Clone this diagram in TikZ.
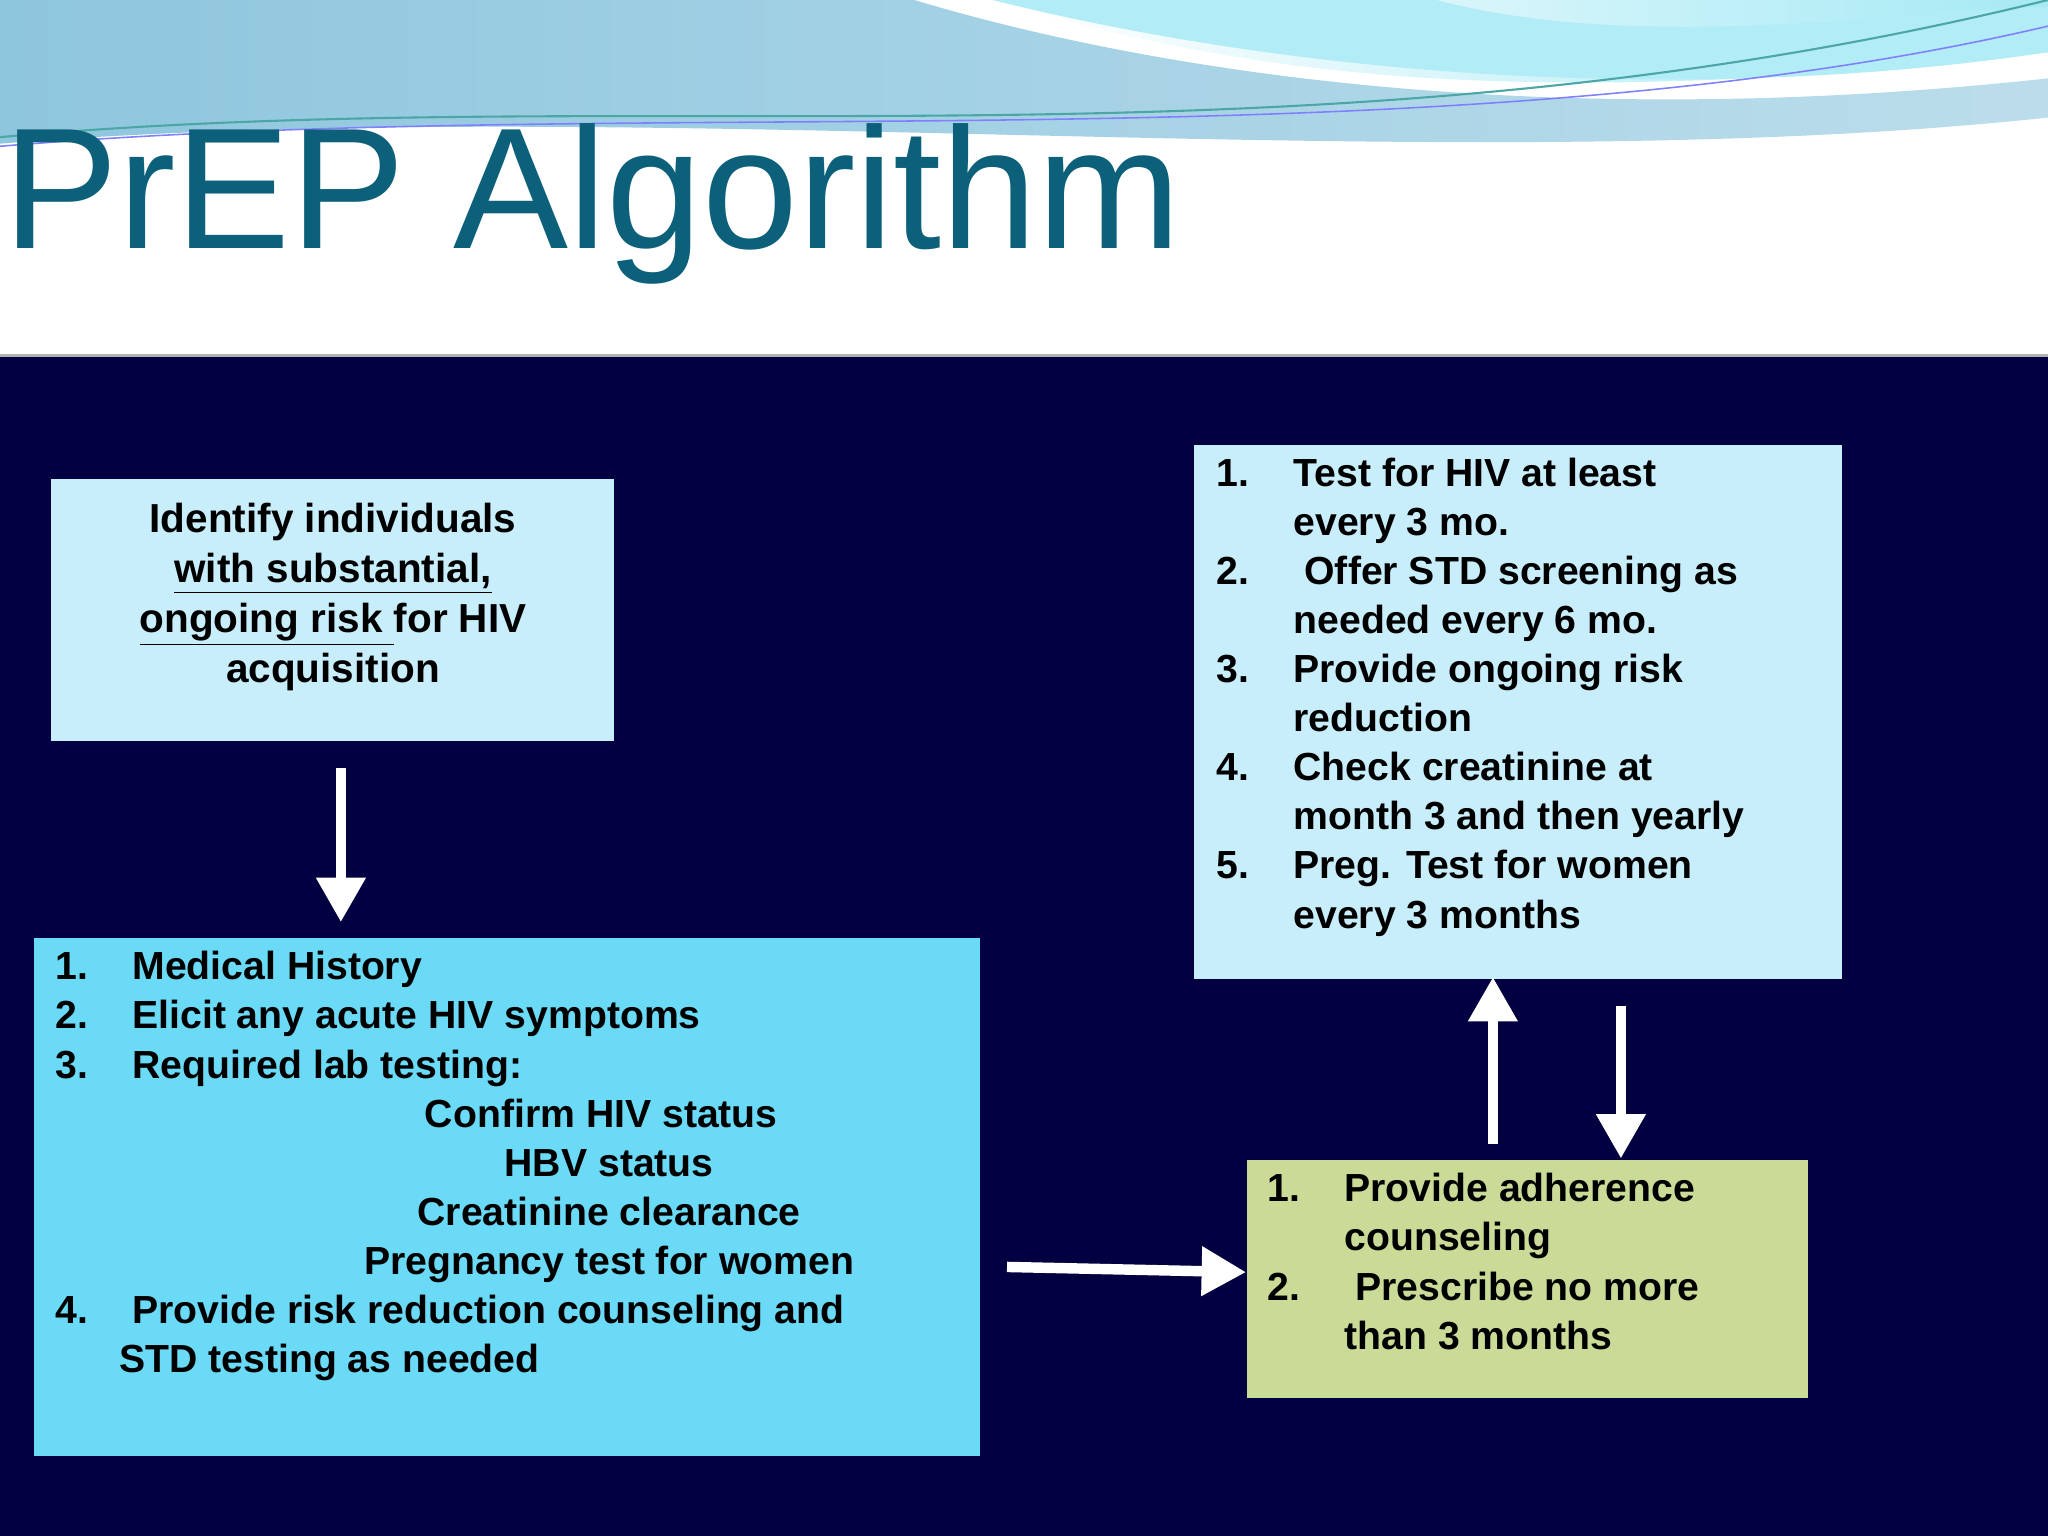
\documentclass[tikz,border=0pt]{standalone}
\usepackage{fontspec}
\setmainfont{Liberation Sans}
\usetikzlibrary{arrows.meta}
\definecolor{navy}{HTML}{020040}
\definecolor{boxA}{HTML}{C8EEFB}
\definecolor{boxB}{HTML}{6ADAF6}
\definecolor{boxC}{HTML}{CADB98}
\definecolor{titlec}{HTML}{0D6079}
\definecolor{waveA}{HTML}{8EC6DE}
\definecolor{waveB}{HTML}{7FE0F0}
\newcommand{\nm}[1]{\makebox[29.5pt][l]{#1}}
\begin{document}
\begin{tikzpicture}[x=0.5pt,y=0.5pt,
  box/.style={draw=none,inner sep=0pt,anchor=north west},
  txt/.style={inner sep=0pt,anchor=north west,align=left,font=\bfseries\fontsize{15}{18.8}\selectfont,text=black},
  arr/.style={white,line width=4pt,-{Triangle[width=18pt,length=17pt]}}]
\useasboundingbox (0,0) rectangle (1568,-1176);
\fill[white] (0,0) rectangle (1568,-272);
% waves
\shade[left color=waveA,right color=waveA!60!white] (0,0) -- (700,0) .. controls (900,-60) and (1200,-100) .. (1568,-60) -- (1568,-90) .. controls (1100,-140) and (500,-70) .. (0,-110) -- cycle;
\shade[left color=white,right color=waveB!70!white] (760,0) .. controls (900,-40) and (1100,-95) .. (1568,-40) -- (1568,0) -- cycle;
\fill[waveB!60!white] (1568,-40) .. controls (1300,-80) and (1000,-60) .. (760,0) -- (1100,0) .. controls (1250,-40) and (1450,-10) .. (1568,-5) -- cycle;
\draw[teal!70,line width=0.8pt] (0,-105) .. controls (500,-60) and (1000,-140) .. (1568,0);
\draw[blue!50,line width=0.6pt] (0,-112) .. controls (500,-70) and (1100,-130) .. (1568,-20);
\node[inner sep=0pt,anchor=base west,text=titlec,font=\fontsize{66}{70}\selectfont] (title) at (2,-190) {PrEP Algorithm};
% dark area
\fill[navy] (0,-272) rectangle (1568,-1176);
\draw[gray!60,line width=1pt] (0,-272) -- (1568,-272);
% boxes
\node[box,fill=boxA,minimum width=431pt*0.5*2/2,minimum width=215.5pt,minimum height=100.5pt] (b1) at (39,-366) {};
\node[box,fill=boxB,minimum width=362pt,minimum height=198pt] (b2) at (26,-718) {};
\node[box,fill=boxA,minimum width=248pt,minimum height=204.5pt] (b3) at (914,-340) {};
\node[box,fill=boxC,minimum width=215pt,minimum height=91pt] (b4) at (954,-888) {};
% texts
\node[inner sep=0pt,align=center,font=\bfseries\fontsize{15.5}{19.2}\selectfont] (t1) at (255,-457) {Identify individuals\\\underline{with substantial,}\\\underline{ongoing risk }for HIV\\acquisition};
\node[txt] (t2) at (42,-728) {\nm{1.}Medical History\\
\nm{2.}Elicit any acute HIV symptoms\\
\nm{3.}Required lab testing:\\
\makebox[418pt][c]{Confirm HIV status}\\
\makebox[424pt][c]{HBV status}\\
\makebox[424pt][c]{Creatinine clearance}\\
\makebox[424pt][c]{Pregnancy test for women}\\
\nm{4.}Provide risk reduction counseling and\\
\hspace*{24.5pt}STD testing as needed};
\node[txt] (t3) at (931,-350) {\nm{1.}Test for HIV at least\\
\nm{}every 3 mo.\\
\nm{2.}\ Offer STD screening as\\
\nm{}needed every 6 mo.\\
\nm{3.}Provide ongoing risk\\
\nm{}reduction\\
\nm{4.}Check creatinine at\\
\nm{}month 3 and then yearly\\
\nm{5.}Preg. Test for women\\
\nm{}every 3 months};
\node[txt] (t4) at (970,-898) {\nm{1.}Provide adherence\\
\nm{}counseling\\
\nm{2.}\ Prescribe no more\\
\nm{}than 3 months};
% arrows
\coordinate (a1s) at (261,-588);
\coordinate (a1e) at (261,-706);
\draw[arr] (a1s) -- (a1e);
\coordinate (a2s) at (771,-970);
\draw[arr] (a2s) -- (b4.west|-0,-974);
\coordinate (a3s) at (1143,-876);
\draw[arr] (a3s) -- (1143,-748);
\coordinate (a4s) at (1241,-770);
\draw[arr] (a4s) -- (1241,-887);
\end{tikzpicture}
\end{document}
